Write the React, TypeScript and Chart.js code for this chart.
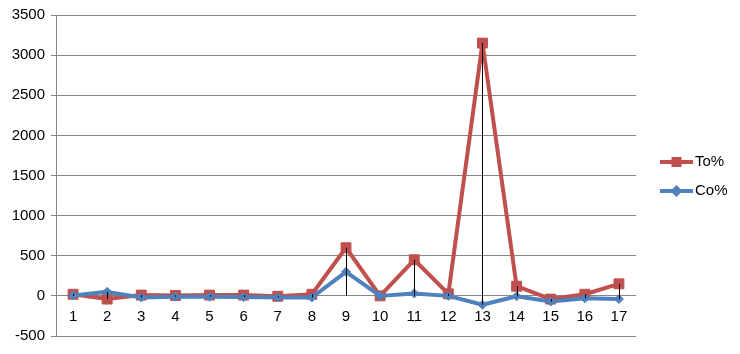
import React, { useEffect, useRef } from "react";
import { Chart, registerables } from "chart.js";

Chart.register(...registerables);

const categories = ["1","2","3","4","5","6","7","8","9","10","11","12","13","14","15","16","17"];
const toValues = [20, -40, 10, 5, 10, 10, -5, 20, 600, 0, 450, 25, 3150, 120, -40, 20, 150];
const coValues = [5, 50, -20, -10, -10, -15, -20, -20, 300, 0, 30, 0, -110, -5, -70, -30, -40];
const yMin = -500;
const yMax = 3500;
const yStep = 500;

const RED = "#C0504D";
const BLUE = "#4F81BD";
const GRID = "#868686";
const FONT = "'Liberation Sans', Arial, sans-serif";

const dropLines = {
  id: "dropLines",
  afterDatasetsDraw(chart: any) {
    const ctx = chart.ctx;
    const x = chart.scales.x;
    const y = chart.scales.y;
    ctx.save();
    ctx.strokeStyle = "#000000";
    ctx.lineWidth = 1;
    categories.forEach((_, i) => {
      const hi = Math.max(toValues[i], coValues[i]);
      const lo = Math.min(0, toValues[i], coValues[i]);
      const px = Math.round(x.getPixelForValue(i)) + 0.5;
      ctx.beginPath();
      ctx.moveTo(px, y.getPixelForValue(hi));
      ctx.lineTo(px, y.getPixelForValue(lo));
      ctx.stroke();
    });
    ctx.restore();
  },
};

const customLegend = {
  id: "customLegend",
  afterDraw(chart: any) {
    const ctx = chart.ctx;
    const area = chart.chartArea;
    const items = [
      { label: "To%", color: RED, style: "rect", dy: 162 },
      { label: "Co%", color: BLUE, style: "rectRot", dy: 191 },
    ];
    ctx.save();
    items.forEach((it) => {
      const x0 = area.right + 24;
      const x1 = area.right + 57;
      ctx.strokeStyle = it.color;
      ctx.lineWidth = 4;
      ctx.beginPath();
      ctx.moveTo(x0, it.dy);
      ctx.lineTo(x1, it.dy);
      ctx.stroke();
      ctx.fillStyle = it.color;
      const cx = (x0 + x1) / 2;
      ctx.beginPath();
      if (it.style === "rect") {
        ctx.rect(cx - 5, it.dy - 5, 10, 10);
      } else {
        ctx.moveTo(cx, it.dy - 6);
        ctx.lineTo(cx + 6, it.dy);
        ctx.lineTo(cx, it.dy + 6);
        ctx.lineTo(cx - 6, it.dy);
        ctx.closePath();
      }
      ctx.fill();
      ctx.fillStyle = "#000000";
      ctx.font = "15px " + FONT;
      ctx.textBaseline = "middle";
      ctx.textAlign = "left";
      ctx.fillText(it.label, x1 + 2, it.dy);
    });
    ctx.restore();
  },
};

export default function App() {
  const ref = useRef<HTMLCanvasElement | null>(null);
  useEffect(() => {
    document.body.style.margin = "0";
    const canvas = ref.current!;
    const chart = new Chart(canvas, {
      type: "line",
      data: {
        labels: categories,
        datasets: [
          {
            label: "Co%",
            data: coValues,
            borderColor: BLUE,
            backgroundColor: BLUE,
            borderWidth: 4,
            borderJoinStyle: "round",
            pointStyle: "rectRot",
            pointRadius: 4.5,
            pointBorderWidth: 1,
            pointBorderColor: BLUE,
            pointBackgroundColor: BLUE,
            tension: 0,
          },
          {
            label: "To%",
            data: toValues,
            borderColor: RED,
            backgroundColor: RED,
            borderWidth: 4,
            borderJoinStyle: "round",
            pointStyle: "rect",
            pointRadius: 7,
            pointBorderWidth: 1,
            pointBorderColor: RED,
            pointBackgroundColor: RED,
            tension: 0,
          },
        ],
      },
      options: {
        responsive: false,
        animation: false,
        events: [],
        layout: { padding: { left: 0, top: 15, right: 104, bottom: 18 } },
        plugins: {
          legend: { display: false },
          tooltip: { enabled: false },
        },
        scales: {
          x: {
            position: { y: 0 } as any,
            offset: true,
            grid: { display: false, drawTicks: false },
            border: { display: false },
            ticks: {
              color: "#000000",
              font: { family: FONT, size: 15 },
              padding: 12,
              maxRotation: 0,
              autoSkip: false,
            },
          },
          y: {
            min: yMin,
            max: yMax,
            afterFit(scale: any) {
              scale.width = 56;
            },
            ticks: {
              stepSize: yStep,
              color: "#000000",
              font: { family: FONT, size: 15 },
              padding: 6,
              callback: (v: any) => String(v),
            },
            grid: { color: GRID, lineWidth: 1, tickLength: 5, drawTicks: true },
            border: { display: true, color: GRID, width: 1 },
          },
        },
      },
      plugins: [dropLines, customLegend],
    });
    return () => chart.destroy();
  }, []);
  return <canvas ref={ref} width={740} height={354} style={{ display: "block" }} />;
}
